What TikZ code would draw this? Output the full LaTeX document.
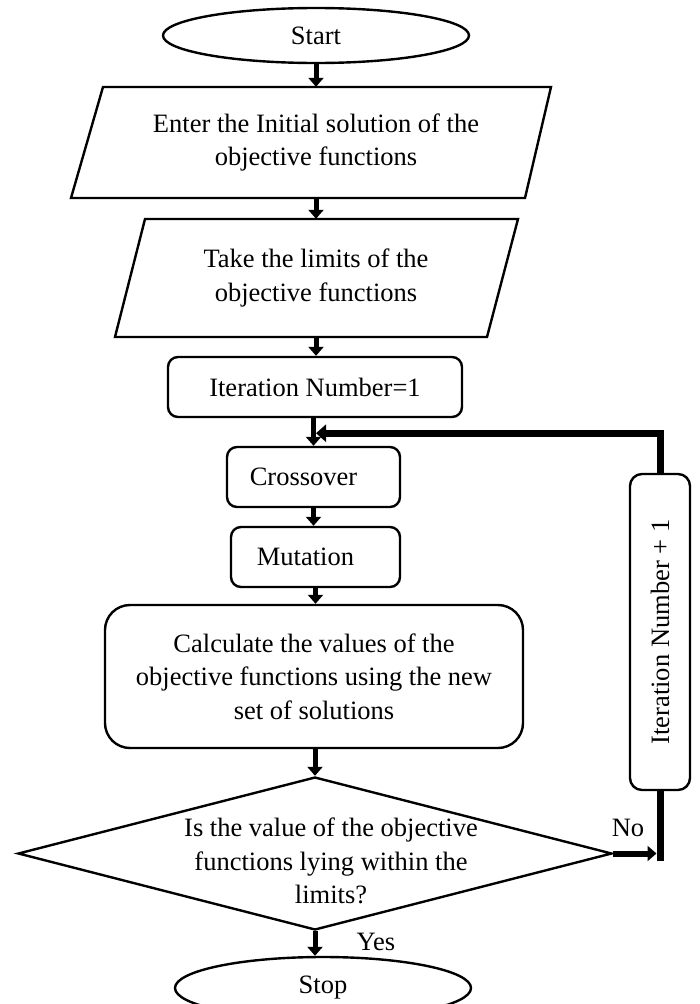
\documentclass[tikz,border=0pt]{standalone}
\usepackage{fontspec}
\setmainfont{Liberation Serif}
\usetikzlibrary{shapes.geometric,arrows.meta,calc}
\begin{document}
\begin{tikzpicture}[x=1pt,y=-1pt,
  every node/.style={font=\fontsize{26.5}{33.5}\selectfont, inner sep=0pt},
  outline/.style={draw, line width=2.4pt},
  rbox/.style={outline, rectangle, rounded corners=10pt},
  oval/.style={outline, ellipse},
  arr/.style={line width=5pt, -{Triangle[width=15pt,length=9pt]}},
  fbline/.style={line width=7pt, line join=miter},
]
\useasboundingbox (0,0) rectangle (700,1004);

\node[oval, minimum width=306pt, minimum height=55pt] (start) at (316,35.5) {Start};

\node[align=center, minimum width=420pt, minimum height=111pt] (p1) at (316,142.5)
  {Enter the Initial solution of the\\objective functions};
\draw[outline, line join=miter] (103,87) -- (551,87) -- (525,198) -- (71,198) -- cycle;

\node[align=center, minimum width=370pt, minimum height=118pt] (p2) at (316,278)
  {Take the limits of the\\objective functions};
\draw[outline, line join=miter] (145,219) -- (518,219) -- (487,337) -- (115,337) -- cycle;

\node[rbox, minimum width=294pt, minimum height=60pt] (iter) at (315,387) {Iteration Number=1};
\node[rbox, minimum width=173pt, minimum height=60pt] (cross) at (313.5,477) {Crossover\hspace*{20pt}};
\node[rbox, minimum width=169pt, minimum height=60pt] (mut) at (315.5,557) {Mutation\hspace*{20pt}};
\node[rbox, rounded corners=25pt, minimum width=418pt, minimum height=143pt, align=center] (calc) at (314,676.5)
  {Calculate the values of the\\objective functions using the new\\set of solutions};

\node[outline, diamond, minimum width=594pt, minimum height=153pt] (dec) at (315,853.5) {};
\node[align=center] (dtext) at (331,861)
  {Is the value of the objective\\functions lying within the\\limits?};

\node[oval, minimum width=296pt, minimum height=62pt] (stop) at (323,988) {\raisebox{2pt}{Stop}};

\node[rbox, rounded corners=12pt, rotate=90, minimum width=316pt, minimum height=60pt] (inc) at (660,632)
  {Iteration Number + 1};

\draw[arr] (start.south) -- (p1.north);
\draw[arr] (p1.south) -- (p2.north);
\draw[arr] (p2.south) -- (p2.south |- iter.north);
\draw[arr] (iter.south -| cross.north) -- (cross.north);
\draw[arr] (cross.south) -- (cross.south |- mut.north);
\draw[arr] (mut.south) -- (mut.south |- calc.north);
\draw[arr] (calc.south -| dec.north) -- (dec.north);
\draw[arr] (dec.south) -- (dec.south |- stop.north);

\node (yes) at (376,942) {Yes};
\node (no) at (628,828) {No};

\coordinate (join) at ($(iter.south -| cross.north)+(2.5,15)$);
\draw[fbline, -{Triangle[width=17pt,length=10pt]}] (inc.east) |- (join);

\coordinate (nend) at ($(inc.west)+(0,70)$);
\draw[fbline] (inc.west) -- (nend);
\draw[line width=6pt, -{Triangle[width=15pt,length=9pt]}, shorten >=3.5pt] (dec.east) -- (dec.east -| nend);
\end{tikzpicture}
\end{document}
